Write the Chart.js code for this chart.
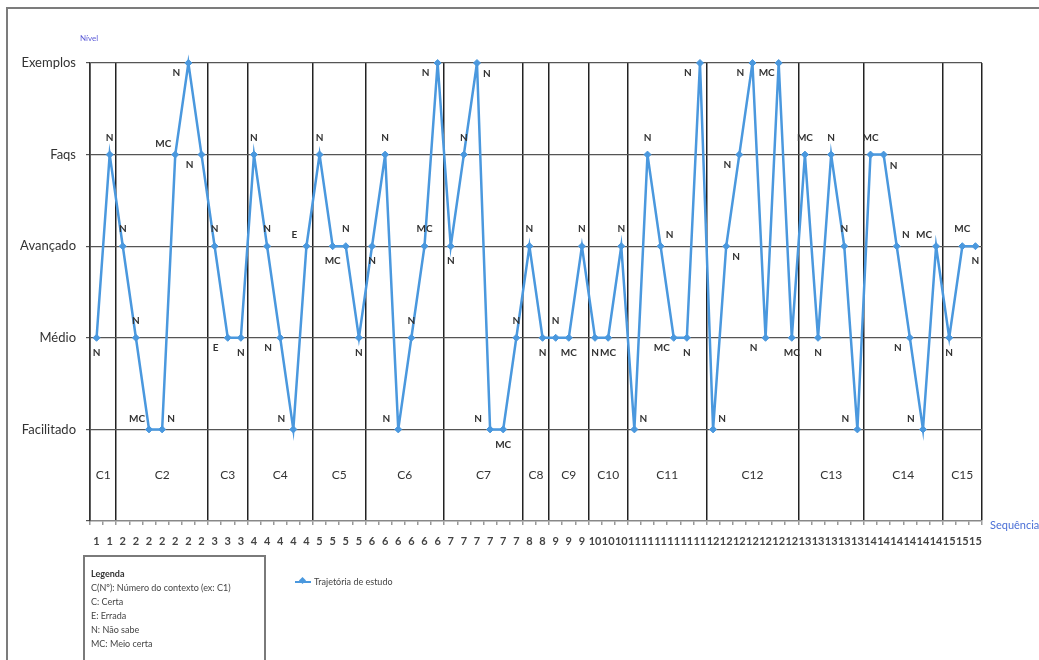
<!DOCTYPE html>
<html>
<head>
<meta charset="utf-8">
<script src="https://cdn.jsdelivr.net/npm/chart.js@4.4.0/dist/chart.umd.min.js"></script>
<style>
html,body{margin:0;padding:0;background:#fff;}
#wrap{position:relative;width:1039px;height:660px;overflow:hidden;font-family:Lato,"Liberation Sans",sans-serif;}
#frame{position:absolute;left:6px;top:7px;width:1100px;height:700px;border-left:2px solid #7c7c7c;border-top:2px solid #7c7c7c;}
canvas{position:absolute;left:0;top:0;}
#nivel{position:absolute;left:80px;top:33px;font-size:8px;color:#5b5bd8;}
#seq{position:absolute;left:990px;top:518px;font-size:11px;color:#4a6fd6;white-space:nowrap;}
#legbox{position:absolute;left:83px;top:555px;width:183px;height:120px;border:2px solid #7a7a7a;box-sizing:border-box;padding:10px 0 0 6px;font-size:9px;color:#444;line-height:14px;}
#legbox b{color:#333;}
#serleg{position:absolute;left:295px;top:576px;font-size:9px;color:#444;white-space:nowrap;}
#serleg .ln{display:inline-block;position:relative;width:16px;height:2px;background:#4A98DE;vertical-align:middle;margin-right:3px;top:-1px;}
#serleg .ln i{position:absolute;left:5px;top:-2.5px;width:5px;height:5px;background:#4A98DE;transform:rotate(45deg);}
</style>
</head>
<body>
<div id="wrap">
  <div id="frame"></div>
  <canvas id="c" width="1039" height="660"></canvas>
  <div id="nivel">Nível</div>
  <div id="seq">Sequência</div>
  <div id="legbox"><b>Legenda</b><br>C(Nº): Número do contexto (ex: C1)<br>C: Certa<br>E: Errada<br>N: Não sabe<br>MC: Meio certa</div>
  <div id="serleg"><span class="ln"><i></i></span>Trajetória de estudo</div>
</div>
<script>
// ---- data ----
const levelNames = ['', 'Facilitado', 'Médio', 'Avançado', 'Faqs', 'Exemplos'];
const contexts = [1,1, 2,2,2,2,2,2,2, 3,3,3, 4,4,4,4,4, 5,5,5,5, 6,6,6,6,6,6, 7,7,7,7,7,7, 8,8, 9,9,9, 10,10,10, 11,11,11,11,11,11, 12,12,12,12,12,12,12, 13,13,13,13,13, 14,14,14,14,14,14, 15,15,15];
const contextNames = ['C1','C2','C3','C4','C5','C6','C7','C8','C9','C10','C11','C12','C13','C14','C15'];
const levels = [2,4,3,2,1,1,4,5,4,3,2,2,4,3,2,1,3,4,3,3,2,3,4,1,2,3,5,3,4,5,1,1,2,3,2,2,2,3,2,2,3,1,4,3,2,2,5,1,3,4,5,2,5,2,4,2,4,3,1,4,4,3,2,1,3,2,3,3];
const answers = ['N','N','N','N','MC','N','MC','N','N','N','E','N','N','N','N','N','E','N','MC','N','N','N','N','N','N','MC','N','N','N','N','N','MC','N','N','N','N','MC','N','N','MC','N','N','N','N','MC','N','N','N','N','N','N','N','MC','MC','MC','N','N','N','N','MC','N','N','N','N','MC','N','MC','N'];
const answerPlacement = ['b','a','a','a','al','ar','al','bl','bl','a','bl','b','a','a','bl','al','al','a','b','a','b','b','a','al','a','a','bl','b','a','br','al','b','a','a','b','a','b','a','b','b','a','ar','a','ar','bl','b','bl','ar','br','bl','bl','bl','bl','b','a','b','a','a','al','a','br','ar','bl','al','al','b','a','b'];
const seriesName = 'Trajetória de estudo';

const OFF = {a:[0,-17], b:[0,15], al:[-12,-11], ar:[9,-11], bl:[-12,10], br:[10,11]};
const BLUE = '#4A98DE';

const annot = {
  id: 'annot',
  afterDatasetsDraw(chart) {
    const ctx = chart.ctx, xs = chart.scales.x, ys = chart.scales.y;
    const meta = chart.getDatasetMeta(0);
    ctx.save();
    ctx.textAlign = 'center';
    ctx.textBaseline = 'middle';
    ctx.fillStyle = '#333';
    ctx.font = 'bold 10px Lato, "Liberation Sans", sans-serif';
    meta.data.forEach((pt, i) => {
      const o = OFF[answerPlacement[i]];
      ctx.fillText(answers[i], pt.x + o[0], pt.y + o[1]);
    });
    ctx.font = '12px Lato, "Liberation Sans", sans-serif';
    contextNames.forEach((name, k) => {
      const first = contexts.indexOf(k + 1);
      const last = contexts.lastIndexOf(k + 1);
      const xm = (xs.getPixelForValue(first) + xs.getPixelForValue(last)) / 2;
      ctx.fillText(name, xm, ys.getPixelForValue(0.5));
    });
    ctx.restore();
  }
};

new Chart(document.getElementById('c'), {
  type: 'line',
  data: {
    labels: contexts.map(String),
    datasets: [{
      label: seriesName,
      data: levels,
      borderColor: BLUE,
      backgroundColor: BLUE,
      borderWidth: 2.5,
      pointStyle: 'rectRot',
      pointRadius: 3.5,
      pointBorderWidth: 1,
      tension: 0,
      clip: false
    }]
  },
  options: {
    responsive: false,
    animation: false,
    layout: { padding: { left: 0, top: 63, right: 57, bottom: 109 } },
    plugins: { legend: { display: false }, tooltip: { enabled: false } },
    scales: {
      x: {
        type: 'category',
        offset: true,
        afterFit: s => { s.height = 30; },
        grid: {
          offset: true,
          drawOnChartArea: true,
          drawTicks: true,
          tickLength: 4,
          tickColor: '#999',
          lineWidth: 1.5,
          color: c => {
            const i = c.index;
            if (i === undefined || i === 0) return '#222';
            return contexts[i] !== contexts[i - 1] ? '#222' : 'rgba(0,0,0,0)';
          }
        },
        border: { display: true, color: '#888', width: 1.5 },
        ticks: {
          autoSkip: false, maxRotation: 0, minRotation: 0, padding: 10,
          color: '#444',
          font: { family: 'Lato, "Liberation Sans", sans-serif', size: 11, weight: 'bold' }
        }
      },
      y: {
        min: 0, max: 5,
        afterFit: s => { s.width = 90; },
        grid: {
          tickLength: 4,
          lineWidth: 1.2,
          color: c => (c.tick && c.tick.value === 0) ? 'rgba(0,0,0,0)' : '#555',
          tickColor: '#555'
        },
        border: { display: true, color: '#333', width: 1.5 },
        ticks: {
          stepSize: 1, padding: 10, color: '#333',
          font: { family: 'Lato, "Liberation Sans", sans-serif', size: 13 },
          callback: v => levelNames[v] || ''
        }
      }
    }
  },
  plugins: [annot]
});
</script>
</body>
</html>
